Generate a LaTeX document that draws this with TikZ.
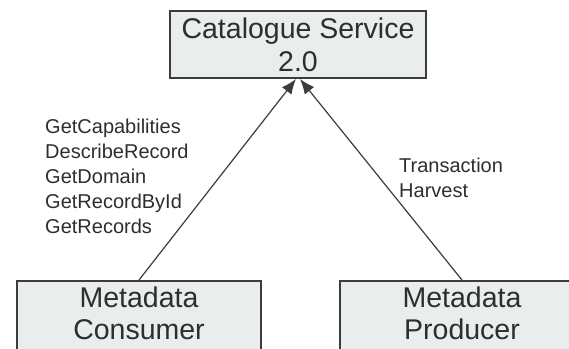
\documentclass[tikz,border=0pt]{standalone}
\usepackage{fontspec}
\setmainfont{Liberation Sans}
\usetikzlibrary{arrows.meta}
\definecolor{boxfill}{HTML}{E9EDEC}
\definecolor{boxline}{HTML}{3C3C3C}
\definecolor{txt}{HTML}{2E2E2E}
\begin{document}
\begin{tikzpicture}[x=1pt,y=-1pt,
  box/.style={draw=boxline, fill=boxfill, line width=2pt, inner sep=0pt,
    align=center, text=txt, font=\fontsize{28.5}{33}\selectfont},
  boxtext/.style={inner sep=0pt, align=center, text=txt,
    font=\fontsize{28.5}{32}\selectfont},
  lbl/.style={anchor=west, inner sep=0pt, align=left, text=txt,
    font=\fontsize{20}{25}\selectfont},
  conn/.style={draw=boxline, line width=1.2pt, -{Latex[length=15pt,width=12pt]}}]
\useasboundingbox[fill=white] (0,0) rectangle (569,348);
\clip (0,0) rectangle (569,348);
\node[box, minimum width=256pt, minimum height=67pt] (cat) at (298,44.5)
  {Catalogue Service\\2.0};
\node[box, minimum width=244pt, minimum height=72pt] (cons) at (139,317) {};
\node[box, minimum width=244pt, minimum height=72pt] (prod) at (462,317) {};
\node[boxtext] (consT) at (139,313.5) {Metadata\\Consumer};
\node[boxtext] (prodT) at (462,313.5) {Metadata\\Producer};
\node[lbl] (ops) at (45,176.5)
  {GetCapabilities\\DescribeRecord\\GetDomain\\GetRecordById\\GetRecords};
\node[lbl] (trans) at (399,177.5) {Transaction\\Harvest};
\draw[conn] (cons.north) -- ([xshift=-2pt]cat.south);
\draw[conn] (prod.north) -- ([xshift=2pt]cat.south);
\end{tikzpicture}
\end{document}
